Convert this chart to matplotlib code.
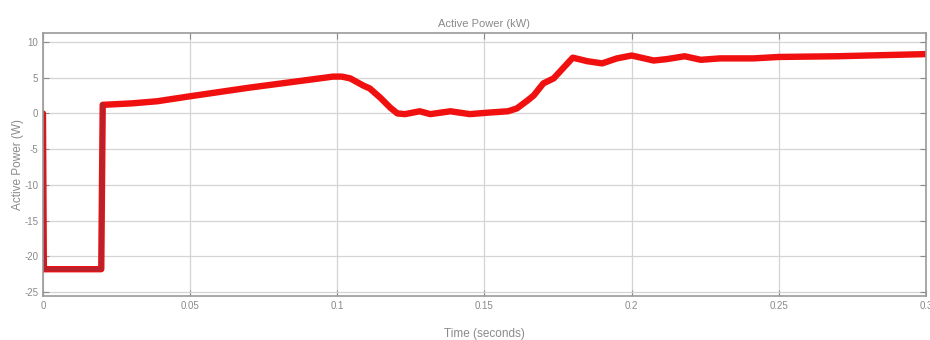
import numpy as np
import matplotlib.pyplot as plt

# simulated active power trace
time_s = [0.0, 0.0003, 0.0198, 0.0203, 0.0300, 0.0388, 0.0500, 0.0700,
          0.0940, 0.0985, 0.1015, 0.1044, 0.1088, 0.1110, 0.1146, 0.1180,
          0.1204, 0.1230, 0.1280, 0.1316, 0.1384, 0.1450, 0.1510, 0.1580,
          0.1610, 0.1646, 0.1667, 0.1700, 0.1735, 0.1800, 0.1850, 0.1900,
          0.1950, 0.2000, 0.2075, 0.2120, 0.2180, 0.2235, 0.2300, 0.2415,
          0.2500, 0.2700, 0.3000]
power = [0.0, -21.8, -21.8, 1.2, 1.4, 1.7, 2.4, 3.6,
         4.9, 5.15, 5.15, 4.9, 3.9, 3.5, 2.2, 0.8,
         0.0, -0.1, 0.3, -0.1, 0.3, -0.1, 0.1, 0.3,
         0.7, 1.8, 2.5, 4.2, 4.9, 7.8, 7.3, 7.0,
         7.7, 8.1, 7.4, 7.6, 8.0, 7.5, 7.7, 7.7,
         7.9, 8.0, 8.3]

xticks = [0, 0.05, 0.1, 0.15, 0.2, 0.25, 0.3]
xtick_labels = ["0", "0.05", "0.1", "0.15", "0.2", "0.25", "0.3"]
yticks = [-25, -20, -15, -10, -5, 0, 5, 10]

plt.rcParams["font.family"] = ["Liberation Sans Narrow", "Liberation Sans", "DejaVu Sans"]
plt.rcParams["axes.unicode_minus"] = False
grey = "#8a8a8a"

fig = plt.figure(figsize=(9.3, 3.4), dpi=100)
ax = fig.add_axes([0.0462, 0.1294, 0.9495, 0.7735])

ax.plot(time_s, power, color="#f01010", lw=4.6,
        solid_joinstyle="round", solid_capstyle="round")
# the step portion renders darker and thinner
ax.plot(time_s[:4], power[:4], color="#b8222c", lw=3.0)

ax.set_xlim(0, 0.3)
ax.set_ylim(-25.55, 11.25)
ax.set_xticks(xticks)
ax.set_xticklabels(xtick_labels)
ax.set_yticks(yticks)

ax.grid(True, color="#d4d4d4", lw=0.9)
ax.tick_params(direction="in", top=True, right=True, length=4,
               colors=grey, labelsize=7, labelcolor=grey)
for side in ax.spines.values():
    side.set_color("#9a9a9a")
    side.set_linewidth(1.2)

ax.set_title("Active Power (kW)", fontsize=8, color=grey, pad=4)
ax.set_xlabel("Time (seconds)", fontsize=8.5, color=grey, labelpad=12)
ax.set_ylabel("Active Power (W)", fontsize=8.5, color=grey, labelpad=0)

fig.savefig("out.png", dpi=100)
